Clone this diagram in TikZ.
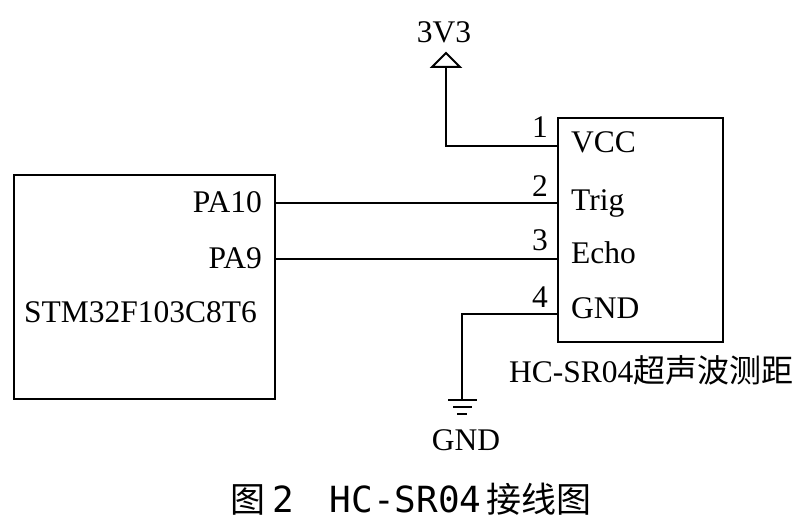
\documentclass[tikz,border=0pt]{standalone}
\usepackage{fontspec}
\setmainfont{Liberation Serif}
\newfontfamily\cjk{Noto Sans CJK SC}
\newfontfamily\capmono{DejaVu Sans Mono}
\begin{document}
\begin{tikzpicture}[x=1pt,y=-1pt,
  wire/.style={line width=2pt},
  box/.style={draw,line width=2pt,inner sep=0pt},
  lbl/.style={font=\fontsize{31.5}{36}\selectfont,inner sep=0pt,anchor=base west},
  pinno/.style={font=\fontsize{31.5}{36}\selectfont,inner sep=0pt,anchor=base east},
  captext/.style={inner sep=0pt,anchor=base west}]
\useasboundingbox[fill=white] (0,0) rectangle (804,527);
% boxes
\node[box,minimum width=261pt,minimum height=224pt] (mcu) at (144.5,287) {};
\node[box,minimum width=165pt,minimum height=224pt] (hc) at (640.5,230) {};
% MCU labels
\node[pinno] (pa10) at (262,212) {PA10};
\node[pinno] (pa9) at (262,268) {PA9};
\node[lbl] (mcuname) at (24,322) {STM32F103C8T6};
% HC labels
\node[lbl] (vcc) at (571,153) {VCC};
\node[lbl] (trig) at (571,210) {Trig};
\node[lbl] (echo) at (571,263) {Echo};
\node[lbl] (gnd) at (571,318) {GND};
\node[pinno] (n1) at (548,138) {1};
\node[pinno] (n2) at (548,196) {2};
\node[pinno] (n3) at (548,250) {3};
\node[pinno] (n4) at (548,307) {4};
\node[lbl] (hcname) at (509,382) {HC-SR04{\cjk\fontsize{32}{36}\selectfont 超声波测距}};
% pin coordinates
\coordinate (pmcu10) at (275,203);
\coordinate (pmcu9) at (275,259);
\coordinate (phc1) at (558,146);
\coordinate (phc2) at (558,203);
\coordinate (phc3) at (558,259);
\coordinate (phc4) at (558,314);
\coordinate (vtop) at (446,67);
\coordinate (gtop) at (462,400);
% wires
\draw[wire] (pmcu10) -- (phc2);
\draw[wire] (pmcu9) -- (phc3);
\draw[wire] (phc1) -| (vtop);
\draw[wire] (phc4) -| (gtop);
% 3V3 symbol
\draw[wire,line join=miter] (432,67) -- (446,53) -- (460,67) -- cycle;
\node[lbl,anchor=base] (v33) at (444,43) {3V3};
% ground symbol
\draw[wire] (448,400) -- (477,400);
\draw[wire] (453,407) -- (472,407);
\draw[wire] (457,414) -- (467,414);
\node[lbl,anchor=base] (gndlbl) at (466,450) {GND};
% caption
\node[captext] (caption) at (230,512) {{\cjk\fontsize{35}{40}\selectfont 图}\hspace{7pt}{\capmono\fontsize{36}{40}\selectfont 2}\hspace{36pt}{\capmono\fontsize{36}{40}\selectfont HC-SR04}\hspace{5pt}{\cjk\fontsize{35}{40}\selectfont 接线图}};
\end{tikzpicture}
\end{document}
